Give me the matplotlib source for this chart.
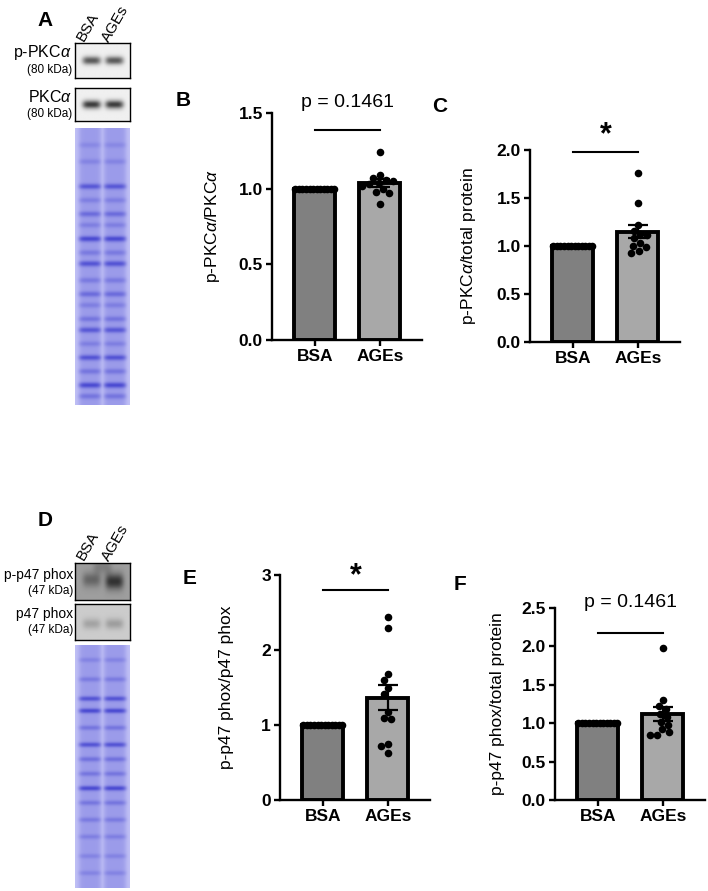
import numpy as np
import matplotlib
matplotlib.use("Agg")
import matplotlib.pyplot as plt

plt.rcParams["font.family"] = ["Liberation Sans", "DejaVu Sans"]
plt.rcParams["mathtext.fontset"] = "custom"
plt.rcParams["mathtext.rm"] = "Liberation Sans"
plt.rcParams["mathtext.it"] = "Liberation Sans:italic"
plt.rcParams["mathtext.bf"] = "Liberation Sans:bold"

W, H = 708, 891

GROUPS = ["BSA", "AGEs"]

# panel B: p-PKCa / PKCa
B_BSA = [1.0] * 12
B_AGES = [1.24, 1.09, 1.07, 1.06, 1.05, 1.04, 1.03, 1.02, 1.00, 0.98, 0.97, 0.90]
# panel C: p-PKCa / total protein
C_BSA = [1.0] * 12
C_AGES = [1.76, 1.45, 1.22, 1.16, 1.12, 1.11, 1.08, 1.03, 1.00, 0.99, 0.95, 0.93]
# panel E: p-p47 phox / p47 phox
E_BSA = [1.0] * 12
E_AGES = [2.44, 2.29, 1.68, 1.60, 1.50, 1.42, 1.18, 1.08, 1.10, 0.75, 0.72, 0.63]
# panel F: p-p47 phox / total protein
F_BSA = [1.0] * 12
F_AGES = [1.98, 1.30, 1.22, 1.18, 1.12, 1.08, 1.02, 0.98, 0.92, 0.88, 0.85, 0.85]

# blot band positions (fraction of gel height, darkness)
GEL_A_BANDS = [(0.06, 0.20), (0.12, 0.25), (0.21, 0.70), (0.26, 0.30), (0.31, 0.50),
               (0.35, 0.30), (0.40, 0.85), (0.45, 0.35), (0.49, 0.75), (0.55, 0.35),
               (0.60, 0.50), (0.64, 0.30), (0.69, 0.40), (0.73, 0.70), (0.78, 0.30),
               (0.83, 0.75), (0.88, 0.40), (0.93, 0.85), (0.97, 0.40)]
GEL_D_BANDS = [(0.06, 0.25), (0.14, 0.35), (0.22, 0.75), (0.27, 0.85), (0.34, 0.40),
               (0.41, 0.75), (0.47, 0.45), (0.53, 0.40), (0.59, 0.85), (0.65, 0.40),
               (0.72, 0.35), (0.79, 0.30), (0.87, 0.25), (0.94, 0.25)]


def px_axes(fig, x0, y0, x1, y1):
    return fig.add_axes([x0 / W, 1 - y1 / H, (x1 - x0) / W, (y1 - y0) / H])


def swarm(vals, ypx, dot=7.0, xpx=65.0, maxoff=19):
    vals = np.asarray(vals, float)
    if np.allclose(vals, vals[0]):
        return np.linspace(-0.3, 0.3, len(vals))
    order = np.argsort(vals)[::-1]
    placed = []
    offs = np.zeros(len(vals))
    cands = sorted(range(-maxoff, maxoff + 1), key=abs)
    for i in order:
        y = vals[i] * ypx
        best, bestd = 0, -1
        for c in cands:
            d = min([np.hypot(c - px, y - py) for px, py in placed] + [99])
            if d >= dot:
                best = c
                break
            if d > bestd:
                best, bestd = c, d
        placed.append((best, y))
        offs[i] = best / xpx
    return offs


def bar_panel(fig, box, bsa, ages, ymax, step, fmt, ylabel, ylab_x, sig, sig_line, sig_txt, sig_fs):
    x0, y0, x1, y1 = box
    ax = px_axes(fig, x0, y0, x1, y1)
    ypx = (y1 - y0) / ymax
    data = [np.array(bsa), np.array(ages)]
    means = [d.mean() for d in data]
    sems = [d.std(ddof=1) / np.sqrt(len(d)) for d in data]
    ax.bar([0, 1], means, width=0.63, color=["#808080", "#a8a8a8"],
           edgecolor="black", linewidth=2.8, zorder=1)
    for i, d in enumerate(data):
        ax.scatter(i + swarm(d, ypx), d, s=30, color="black", zorder=3,
                   linewidths=0, clip_on=False)
    ax.errorbar([1], [means[1]], yerr=[sems[1]], fmt="none", ecolor="black",
                elinewidth=1.6, capsize=7.5, capthick=1.6, zorder=4)
    ax.set_xlim(-0.66, 1.65)
    ax.set_ylim(0, ymax)
    ticks = np.arange(0, ymax + step / 2, step)
    ax.set_yticks(ticks)
    ax.set_yticklabels([fmt.format(t) for t in ticks], fontweight="bold", fontsize=12.5)
    ax.set_xticks([0, 1])
    ax.set_xticklabels(GROUPS, fontweight="bold", fontsize=12.5)
    for s in ["top", "right"]:
        ax.spines[s].set_visible(False)
    for s in ["left", "bottom"]:
        ax.spines[s].set_linewidth(1.7)
    ax.tick_params(width=1.7, length=4.5, pad=2)
    ax.patch.set_alpha(0)
    fig.text(ylab_x / W, 1 - (y0 + y1) / 2 / H, ylabel, rotation=90,
             ha="center", va="center", fontsize=12.5)
    ax.plot([0, 1], [sig_line, sig_line], color="black", lw=1.5, clip_on=False)
    ax.text(0.5, sig_txt, sig, ha="center", va="center", fontsize=sig_fs,
            fontweight="bold" if sig == "*" else "normal", clip_on=False)
    return ax


def blot(fig, box, bands, bg, dark, lanes=(0.3, 0.72), lane_w=0.17):
    x0, y0, x1, y1 = box
    ax = px_axes(fig, x0, y0, x1, y1)
    ny, nx = 40, 60
    yy, xx = np.mgrid[0:ny, 0:nx]
    xs = xx / (nx - 1)
    ys = yy / (ny - 1)
    img = np.full((ny, nx), bg)
    for xc, yc, amp, wy in bands:
        prof = np.exp(-((xs - xc) / lane_w) ** 4) * np.exp(-((ys - yc) / wy) ** 2)
        img = img - (bg - dark) * amp * prof
    ax.imshow(img, cmap="gray", vmin=0, vmax=1, aspect="auto",
              interpolation="bilinear")
    ax.set_xticks([])
    ax.set_yticks([])
    for s in ax.spines.values():
        s.set_linewidth(1.0)
    return ax


def gel(fig, box, bands):
    x0, y0, x1, y1 = box
    ax = px_axes(fig, x0, y0, x1, y1)
    ny, nx = 300, 60
    yy, xx = np.mgrid[0:ny, 0:nx]
    xs = xx / (nx - 1)
    ys = yy / (ny - 1)
    lane = np.zeros((ny, nx))
    for xc in (0.27, 0.73):
        lane = np.maximum(lane, np.exp(-((xs - xc) / 0.21) ** 6))
    d = 0.22 * lane + 0.16
    for yc, amp in bands:
        d = d + amp * 0.6 * lane * np.exp(-((ys - yc) / 0.01) ** 2)
    d = np.clip(d, 0, 1)[..., None]
    light = np.array([0.85, 0.85, 0.99])
    deep = np.array([0.22, 0.22, 0.80])
    img = light * (1 - d) + deep * d
    ax.imshow(img, aspect="auto", interpolation="bilinear")
    ax.axis("off")
    return ax


fig = plt.figure(figsize=(W / 100, H / 100), dpi=100)

# ---- A: PKCa blots
fig.text(45 / W, 1 - 20 / H, "A", fontsize=15, fontweight="bold", ha="center", va="center")
fig.text(88 / W, 1 - 27 / H, "BSA", rotation=60, fontsize=11, ha="center", va="center")
fig.text(115 / W, 1 - 24 / H, "AGEs", rotation=60, fontsize=11, ha="center", va="center")
fig.text(72 / W, 1 - 53 / H, "p-PKC$\\it{\\alpha}$", fontsize=11.5, ha="right", va="center")
fig.text(72 / W, 1 - 70 / H, "(80 kDa)", fontsize=8.5, ha="right", va="center")
fig.text(72 / W, 1 - 97 / H, "PKC$\\it{\\alpha}$", fontsize=11.5, ha="right", va="center")
fig.text(72 / W, 1 - 114 / H, "(80 kDa)", fontsize=8.5, ha="right", va="center")
blot(fig, (75, 43, 130, 78), [(0.3, 0.5, 0.85, 0.12), (0.72, 0.5, 0.85, 0.12)], 0.94, 0.25)
blot(fig, (75, 88, 130, 121), [(0.3, 0.5, 0.95, 0.13), (0.72, 0.5, 0.95, 0.13)], 0.94, 0.2)
gel(fig, (75, 128, 130, 405), GEL_A_BANDS)

# ---- D: p47 phox blots
fig.text(45 / W, 1 - 520 / H, "D", fontsize=15, fontweight="bold", ha="center", va="center")
fig.text(88 / W, 1 - 546 / H, "BSA", rotation=60, fontsize=11, ha="center", va="center")
fig.text(115 / W, 1 - 543 / H, "AGEs", rotation=60, fontsize=11, ha="center", va="center")
fig.text(73 / W, 1 - 575 / H, "p-p47 phox", fontsize=10, ha="right", va="center")
fig.text(73 / W, 1 - 591 / H, "(47 kDa)", fontsize=8.5, ha="right", va="center")
fig.text(73 / W, 1 - 614 / H, "p47 phox", fontsize=10, ha="right", va="center")
fig.text(73 / W, 1 - 630 / H, "(47 kDa)", fontsize=8.5, ha="right", va="center")
blot(fig, (75, 563, 130, 600), [(0.3, 0.45, 0.45, 0.2), (0.72, 0.5, 0.85, 0.22),
                                (0.5, 0.1, 0.25, 0.2)], 0.62, 0.12)
blot(fig, (75, 604, 130, 640), [(0.3, 0.55, 0.35, 0.15), (0.72, 0.55, 0.4, 0.15)], 0.80, 0.35)
gel(fig, (75, 645, 130, 888), GEL_D_BANDS)

# ---- bar charts
fig.text(183 / W, 1 - 100 / H, "B", fontsize=15, fontweight="bold", ha="center", va="center")
bar_panel(fig, (272, 113, 422, 340), B_BSA, B_AGES, 1.5, 0.5, "{:.1f}",
          "p-PKC$\\it{\\alpha}$/PKC$\\it{\\alpha}$", 213, "p = 0.1461", 1.39, 1.57, 14)

fig.text(440 / W, 1 - 107 / H, "C", fontsize=15, fontweight="bold", ha="center", va="center")
bar_panel(fig, (530, 150, 680, 342), C_BSA, C_AGES, 2.0, 0.5, "{:.1f}",
          "p-PKC$\\it{\\alpha}$/total protein", 469, "*", 1.98, 2.15, 22)

fig.text(190 / W, 1 - 578 / H, "E", fontsize=15, fontweight="bold", ha="center", va="center")
bar_panel(fig, (280, 575, 430, 800), E_BSA, E_AGES, 3.0, 1.0, "{:.0f}",
          "p-p47 phox/p47 phox", 227, "*", 2.8, 2.98, 22)

fig.text(460 / W, 1 - 585 / H, "F", fontsize=15, fontweight="bold", ha="center", va="center")
bar_panel(fig, (555, 608, 705, 800), F_BSA, F_AGES, 2.5, 0.5, "{:.1f}",
          "p-p47 phox/total protein", 497, "p = 0.1461", 2.18, 2.57, 14)

fig.savefig("out.png", dpi=100)
